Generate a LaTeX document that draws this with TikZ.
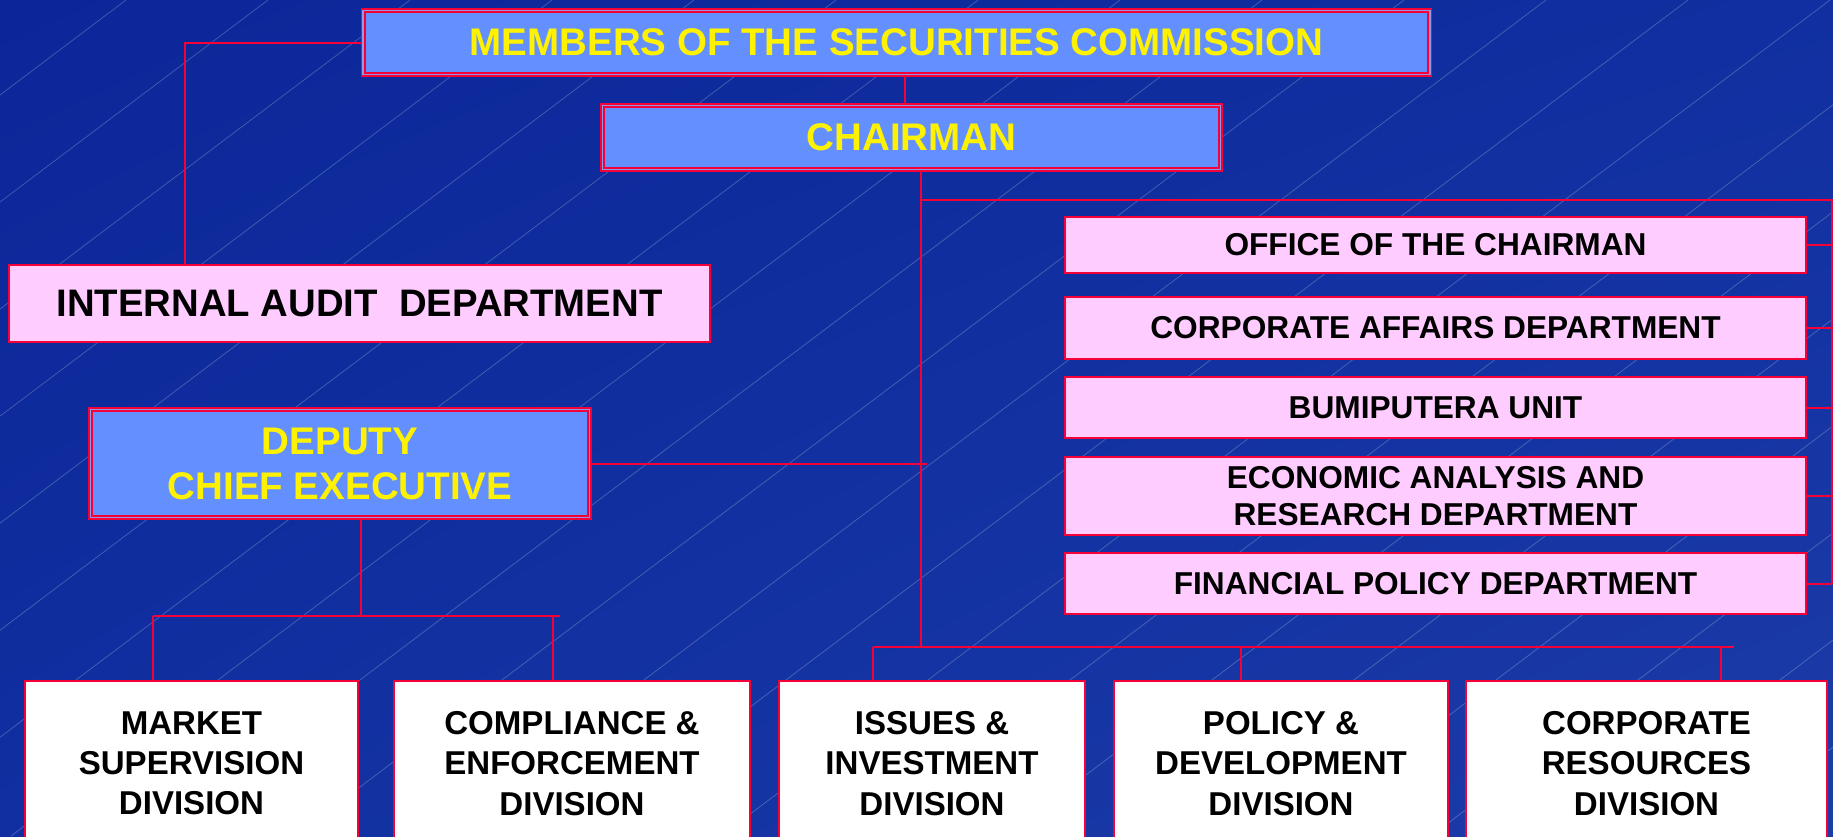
\documentclass[tikz,border=0pt]{standalone}
\usepackage{fontspec}
\setmainfont{Liberation Sans}
\usetikzlibrary{calc}
\usetikzlibrary{shadings}

\begin{document}
\begin{tikzpicture}[x=0.01cm, y=-0.01cm, line width=0.02cm,
    link/.style={draw=cred, line width=0.02cm},
    bgline/.style={draw=white, opacity=0.22, line width=0.008cm},
    headbox/.style={draw=cred, double=cgap, double distance=0.015cm, line width=0.018cm,
      fill=cblue, text=yellow, align=center, inner sep=0pt,
      font=\fontsize{10.95}{12.8}\selectfont\bfseries},
    deptbox/.style={draw=cred, fill=cpink, align=center, inner sep=0pt,
      minimum width=7.41cm, font=\fontsize{9}{10.5}\selectfont\bfseries},
    divbox/.style={draw=cred, fill=white, anchor=north, align=center, inner sep=0pt,
      minimum height=1.65cm, font=\fontsize{9.4}{11.4}\selectfont\bfseries}]
    \definecolor{cred}{RGB}{245,0,55}
    \definecolor{cgap}{RGB}{150,150,232}
    \definecolor{cblue}{RGB}{100,144,255}
    \definecolor{cpink}{RGB}{255,204,255}
    \definecolor{bgdark}{RGB}{11,38,152}
    \definecolor{bgmid}{RGB}{17,47,160}
    \definecolor{bglight}{RGB}{28,60,168}

    \useasboundingbox (0,0) rectangle (1833,836);
    \clip (0,0) rectangle (1833,836);
    \shade[upper left=bgdark, upper right=bgmid, lower left=bgmid, lower right=bglight]
      (0,0) rectangle (1833,836);
    \foreach \k in {-3,...,19}
      \draw[bgline] ({410+142*\k},0) -- ++(-1109,836);

    % top of the chart
    \node[headbox, minimum width=10.66cm, minimum height=0.64cm] (members) at (896.5,42.5)
      {MEMBERS OF THE SECURITIES COMMISSION};
    \node[headbox, minimum width=6.18cm, minimum height=0.64cm] (chairman) at (911.5,137.5)
      {CHAIRMAN};
    \node[draw=cred, fill=cpink, inner sep=0pt, minimum width=7.01cm, minimum height=0.77cm,
      font=\fontsize{10.9}{13}\selectfont\bfseries] (audit) at (359.5,303.5)
      {INTERNAL AUDIT\ \ DEPARTMENT};
    \node[headbox, minimum width=4.99cm, minimum height=1.08cm] (deputy) at (340,463.5)
      {DEPUTY\\CHIEF EXECUTIVE};

    % units under the chairman
    \node[deptbox, minimum height=0.56cm] (office) at (1435.5,245) {OFFICE OF THE CHAIRMAN};
    \node[deptbox, minimum height=0.62cm] (corpaff) at (1435.5,328) {CORPORATE AFFAIRS DEPARTMENT};
    \node[deptbox, minimum height=0.61cm] (bumi) at (1435.5,407.5) {BUMIPUTERA UNIT};
    \node[deptbox, minimum height=0.78cm] (econ) at (1435.5,496)
      {ECONOMIC ANALYSIS AND\\RESEARCH DEPARTMENT};
    \node[deptbox, minimum height=0.61cm] (finpol) at (1435.5,583.5) {FINANCIAL POLICY DEPARTMENT};

    % divisions
    \node[divbox, minimum width=3.33cm] (market) at (191.5,680) {MARKET\\SUPERVISION\\DIVISION};
    \node[divbox, minimum width=3.56cm] (comply) at (572,680) {COMPLIANCE \&\\ENFORCEMENT\\DIVISION};
    \node[divbox, minimum width=3.06cm] (issues) at (932,680) {ISSUES \&\\INVESTMENT\\DIVISION};
    \node[divbox, minimum width=3.34cm] (policy) at (1281,680) {POLICY \&\\DEVELOPMENT\\DIVISION};
    \node[divbox, minimum width=3.61cm] (corpres) at (1646.5,680) {CORPORATE\\RESOURCES\\DIVISION};

    \coordinate (auditjoin) at (185,0);
    \coordinate (topjoin) at (905,0);
    \coordinate (trunk) at (921,647);
    \coordinate (djoin) at (927,0);
    \coordinate (rtop) at (1832,200);
    \coordinate (rbot) at (1832,584);
    \coordinate (dbus) at (361,616);
    \coordinate (dbusL) at (153,616);
    \coordinate (dbusR) at (560,616);
    \coordinate (cdrop) at (553,616);
    \coordinate (busL) at (873,647);
    \coordinate (busR) at (1734,647);
    \coordinate (pdrop) at (1241,647);
    \coordinate (rdrop) at (1721,647);

    \draw[link] (members.west) -| (audit.north -| auditjoin);
    \draw[link] (members.south -| topjoin) -- (chairman.north -| topjoin);
    \draw[link] (chairman.south -| trunk) -- (trunk);
    \draw[link] (rtop -| trunk) -- (rtop) -- (rbot);
    \foreach \n in {office,corpaff,bumi,econ,finpol}
      \draw[link] (\n.east) -- (\n.east -| rtop);
    \draw[link] (deputy.east) -- (deputy.east -| djoin);

    \draw[link] (deputy.south -| dbus) -- (dbus);
    \draw[link] (dbusL) -- (dbusR);
    \draw[link] (dbusL) -- (dbusL |- market.north);
    \draw[link] (cdrop) -- (cdrop |- comply.north);

    \draw[link] (busL) -- (busR);
    \draw[link] (busL) -- (busL |- issues.north);
    \draw[link] (pdrop) -- (pdrop |- policy.north);
    \draw[link] (rdrop) -- (rdrop |- corpres.north);
\end{tikzpicture}
\end{document}
